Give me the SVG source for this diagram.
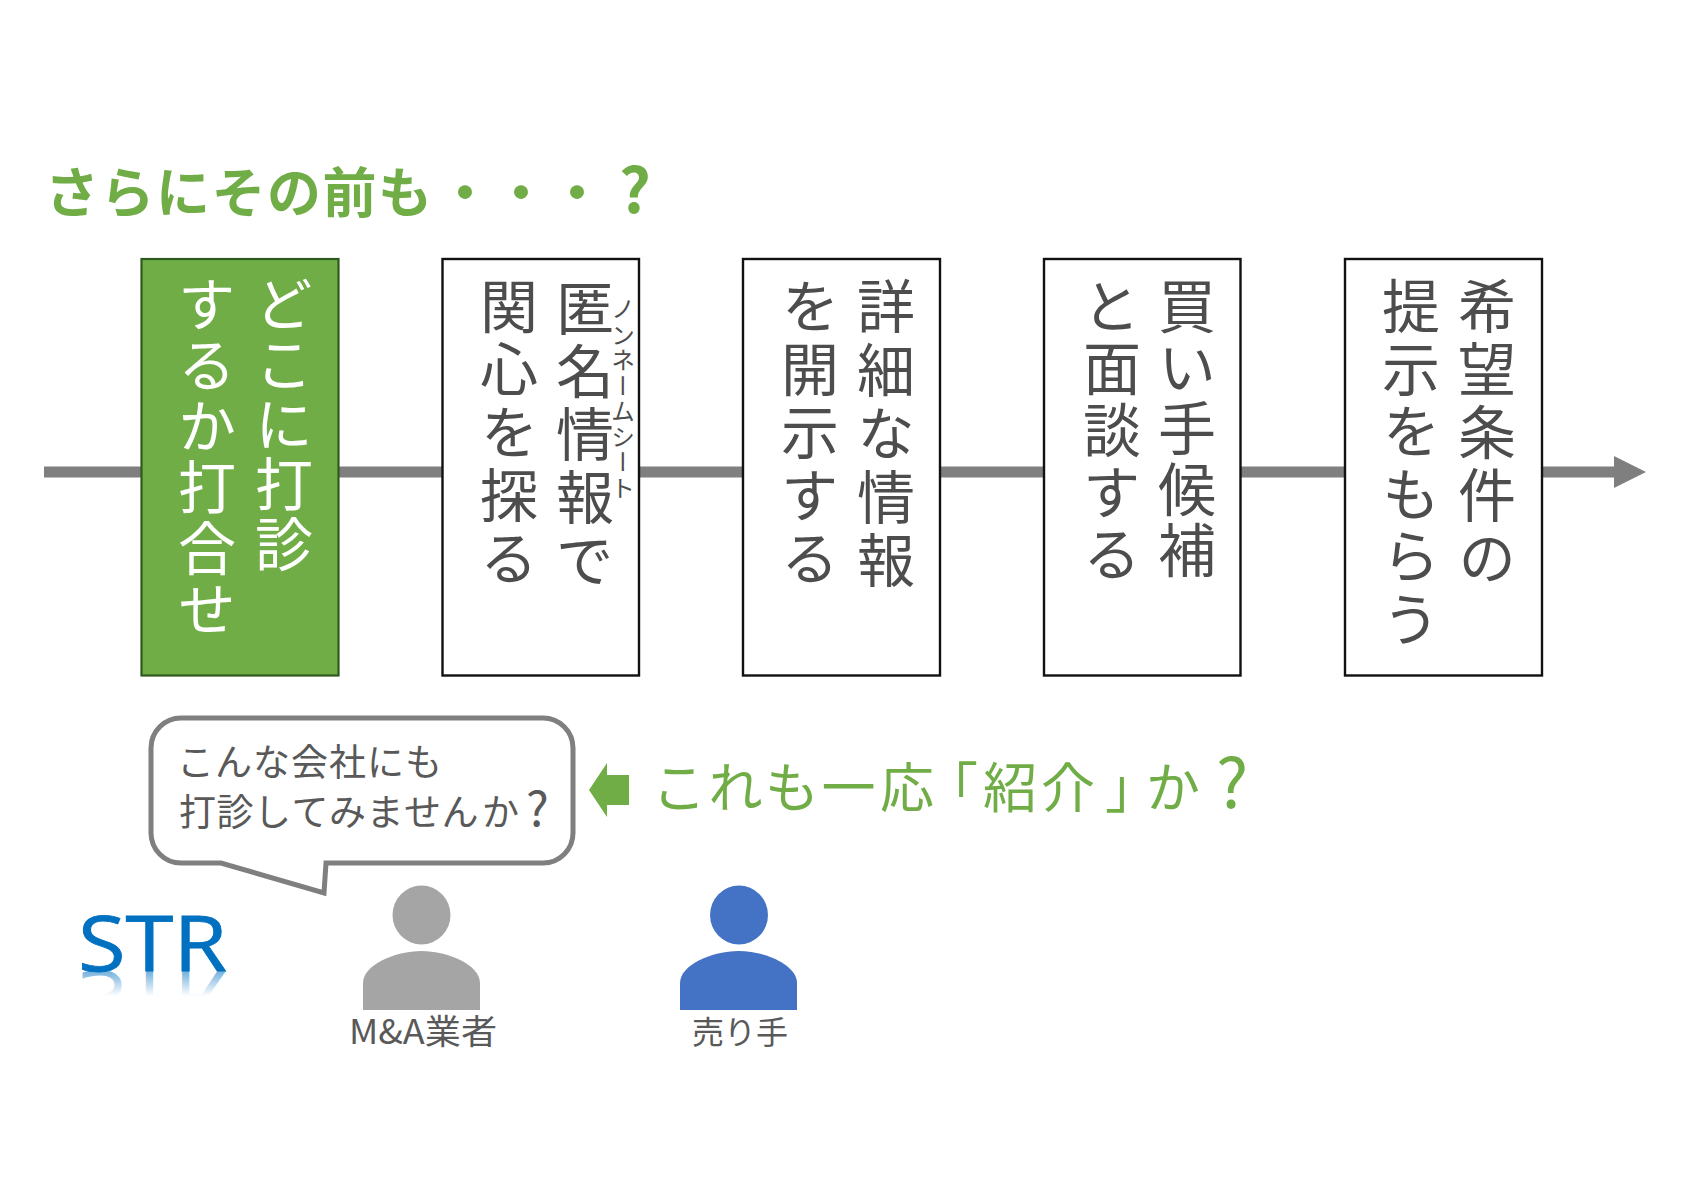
<svg xmlns="http://www.w3.org/2000/svg" width="1684" height="1191" viewBox="0 0 1684 1191">
<style>
text{font-family:"Noto Sans CJK JP","Noto Sans",sans-serif}
.box{fill:#fff;stroke:#111;stroke-width:2.4}
.v{writing-mode:vertical-rl;font-size:58px;fill:#4d4d4d}
.g{fill:#70AD47}
.lbl{font-size:32px;fill:#595959;text-anchor:middle}
.say{font-size:37px;fill:#595959}
.str{font-family:"Open Sans",sans-serif;font-size:76px}
</style>
<defs>
<marker id="ah" markerUnits="userSpaceOnUse" markerWidth="32" markerHeight="32" refX="0" refY="16" orient="auto"><path d="M0 0L32 16L0 32Z" fill="#7F7F7F"/></marker>
<linearGradient id="refl" gradientUnits="userSpaceOnUse" x1="0" y1="-971" x2="0" y2="-996"><stop offset="0" stop-color="#0070C0" stop-opacity=".55"/><stop offset="1" stop-color="#0070C0" stop-opacity="0"/></linearGradient>
<clipPath id="reflclip"><rect x="70" y="971" width="170" height="26"/></clipPath>
</defs>
<rect width="1684" height="1191" fill="#fff"/>
<g id="connectors"><line x1="44" y1="472" x2="1614" y2="472" stroke="#7F7F7F" stroke-width="11" marker-end="url(#ah)"/></g>
<g id="title"><text class="g" y="213" font-size="54" font-weight="700" x="45 100.500 156 211.500 267 322.500 378 438 494 550">さらにその前も・・・</text><text class="g" x="619" y="213" font-size="62" font-weight="700">?</text></g>
<g id="step1"><rect x="141.500" y="259" width="197" height="416.500" fill="#70AD47" stroke="#2f5a1f" stroke-width="2.200"/>
<text class="v" x="284" y="275" style="fill:#fff;letter-spacing:2px">どこに打診</text><text class="v" x="207" y="275" style="fill:#fff;letter-spacing:3px">するか打合せ</text></g>
<g id="step2"><rect class="box" x="442.500" y="259" width="196.500" height="416.500"/>
<text class="v" x="585" y="279" style="letter-spacing:5px">匿名情報で</text><text class="v" x="509" y="277" style="letter-spacing:5px">関心を探る</text>
<text class="v" x="623" y="297" style="font-size:24px;letter-spacing:1.500px">ノンネームシート</text></g>
<g id="step3"><rect class="box" x="743" y="259" width="197" height="416.500"/>
<text class="v" x="886" y="277" style="letter-spacing:5.500px">詳細な情報</text><text class="v" x="810" y="277" style="letter-spacing:5px">を開示する</text></g>
<g id="step4"><rect class="box" x="1044" y="259" width="196.500" height="416.500"/>
<text class="v" x="1187" y="277" style="letter-spacing:3px">買い手候補</text><text class="v" x="1112" y="277" style="letter-spacing:4px">と面談する</text></g>
<g id="step5"><rect class="box" x="1345" y="259" width="197" height="416.500"/>
<text class="v" x="1487" y="277" style="letter-spacing:5px">希望条件の</text><text class="v" x="1411" y="277" style="letter-spacing:4.500px">提示をもらう</text></g>
<g id="bubble"><path d="M181 718H543A30 30 0 0 1 573 748V833A30 30 0 0 1 543 863H326L324 893L221 863H181A30 30 0 0 1 151 833V748A30 30 0 0 1 181 718Z" fill="#fff" stroke="#7F7F7F" stroke-width="5"/>
<text class="say" x="177" y="776" textLength="265">こんな会社にも</text><text class="say" y="826" x="179 216.500 254 291.500 329 366.500 404 441.500 482">打診してみませんか</text><text class="say" x="526" y="826" style="font-size:48px">?</text></g>
<g id="pointer"><path d="M589 790L607 763V775H629V805H607V817Z" fill="#70AD47"/>
<text class="g" y="808" font-size="54" x="652 708.500 765 821.500 880 924 983 1041 1105 1146">これも一応「紹介」か</text><text class="g" x="1216" y="808" font-size="68">?</text></g>
<g id="logo"><text class="str" x="78" y="971" fill="#0070C0" stroke="#0070C0" stroke-width=".8" textLength="149" lengthAdjust="spacingAndGlyphs">STR</text>
<g clip-path="url(#reflclip)"><text class="str" x="78" y="-971" transform="scale(1 -1)" fill="url(#refl)" textLength="149" lengthAdjust="spacingAndGlyphs">STR</text></g></g>
<g id="agent"><ellipse cx="421.500" cy="915" rx="29" ry="29.500" fill="#A5A5A5"/><path d="M363 1010V983C363 965 395 951 421.500 951C448 951 480 965 480 983V1010Z" fill="#A5A5A5"/>
<text class="lbl" x="423" y="1044" textLength="148" lengthAdjust="spacingAndGlyphs" style="font-size:34px">M&amp;A業者</text></g>
<g id="seller"><ellipse cx="739" cy="915" rx="29" ry="29.500" fill="#4472C4"/><path d="M680 1010V983C680 965 712 951 738.500 951C765 951 797 965 797 983V1010Z" fill="#4472C4"/>
<text class="lbl" x="740" y="1044">売り手</text></g>
</svg>
